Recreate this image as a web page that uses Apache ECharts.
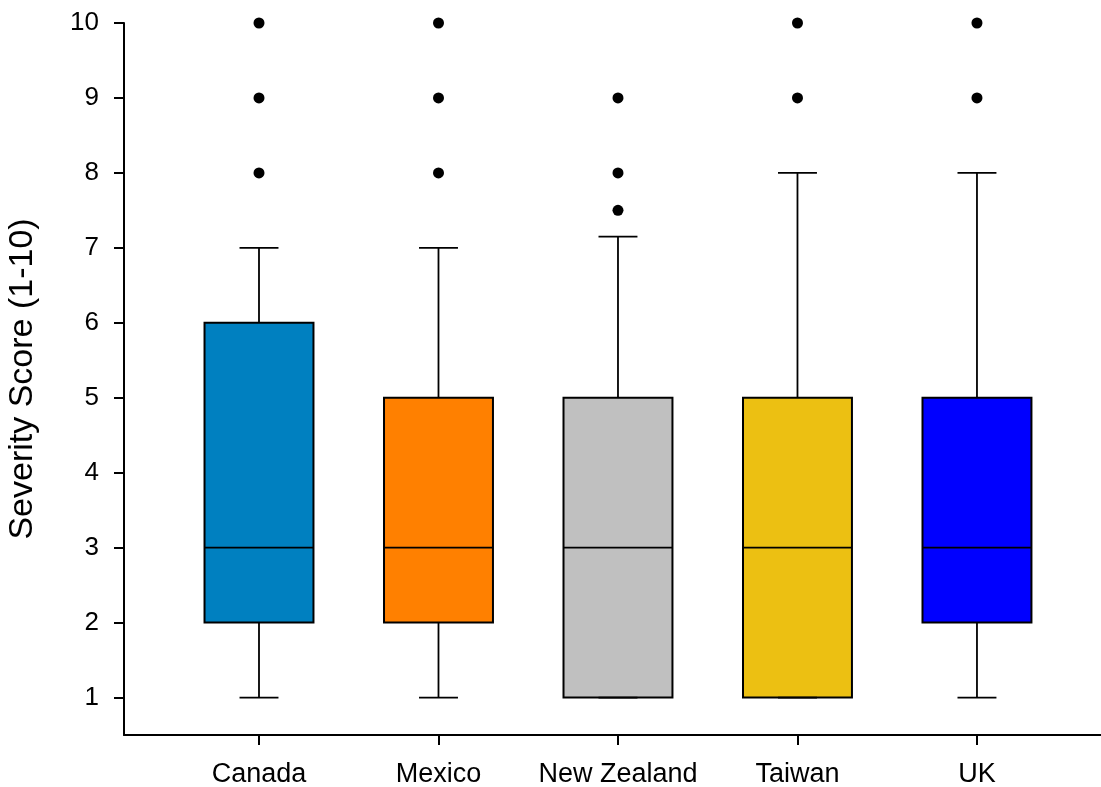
<!DOCTYPE html>
<html>
<head>
<meta charset="utf-8">
<script src="https://cdn.jsdelivr.net/npm/echarts@6/dist/echarts.min.js"></script>
<style>
  html, body { margin: 0; padding: 0; background: #fff; }
  #chart { width: 1101px; height: 787px; }
</style>
</head>
<body>
<div id="chart"></div>
<script>
// Countries along the x axis
const categories = ['Canada', 'Mexico', 'New Zealand', 'Taiwan', 'UK'];
// Box statistics per country: [lower whisker, Q1, median, Q3, upper whisker]
const boxStats = [
  [1, 2, 3, 6, 7],
  [1, 2, 3, 5, 7],
  [1, 1, 3, 5, 7.15],
  [1, 1, 3, 5, 8],
  [1, 2, 3, 5, 8]
];
// Outlying scores per country
const outliers = [
  [8, 9, 10],
  [8, 9, 10],
  [7.5, 8, 9],
  [9, 10],
  [9, 10]
];
const boxColors = ['#0080C0', '#FF8000', '#C0C0C0', '#ECC012', '#0000FF'];
const yTicks = [1, 2, 3, 4, 5, 6, 7, 8, 9, 10];
const xTicks = [1, 2, 3, 4, 5];

const FONT = '"Liberation Sans", Arial, sans-serif';
const BOX_W = 0.607;   // box width in category units
const CAP_W = 0.217;   // whisker cap width in category units

const boxData = boxStats.map((s, i) => [i + 1].concat(s));
const outlierData = [];
outliers.forEach((list, i) => list.forEach(v => outlierData.push([i + 1, v])));

function renderBox(params, api) {
  const x = api.value(0);
  const lo = api.coord([x, api.value(1)]);
  const q1 = api.coord([x, api.value(2)]);
  const med = api.coord([x, api.value(3)]);
  const q3 = api.coord([x, api.value(4)]);
  const hi = api.coord([x, api.value(5)]);
  const bw = api.size([BOX_W, 0])[0];
  const cw = api.size([CAP_W, 0])[0];
  const cx = lo[0];
  const ls = { stroke: '#000', lineWidth: 1.8 };
  return {
    type: 'group',
    children: [
      { type: 'line', shape: { x1: cx, y1: q3[1], x2: cx, y2: hi[1] }, style: ls },
      { type: 'line', shape: { x1: cx - cw / 2, y1: hi[1], x2: cx + cw / 2, y2: hi[1] }, style: ls },
      { type: 'line', shape: { x1: cx, y1: q1[1], x2: cx, y2: lo[1] }, style: ls },
      { type: 'rect', shape: { x: cx - bw / 2, y: q3[1], width: bw, height: q1[1] - q3[1] },
        style: { fill: boxColors[params.dataIndex], stroke: '#000', lineWidth: 2 } },
      { type: 'line', shape: { x1: cx - bw / 2, y1: med[1], x2: cx + bw / 2, y2: med[1] }, style: ls },
      { type: 'line', shape: { x1: cx - cw / 2, y1: lo[1], x2: cx + cw / 2, y2: lo[1] }, style: ls }
    ]
  };
}

const chart = echarts.init(document.getElementById('chart'), null, { renderer: 'canvas' });
chart.setOption({
  animation: false,
  backgroundColor: '#fff',
  grid: { left: 124, right: 0, top: 23, bottom: 52, containLabel: false, outerBoundsMode: 'none' },
  xAxis: {
    type: 'value',
    min: 0.2479,
    max: 5.691,
    splitLine: { show: false },
    axisLine: { show: true, onZero: false, lineStyle: { color: '#000', width: 2 } },
    axisTick: { show: true, customValues: xTicks, length: 10, lineStyle: { color: '#000', width: 2 } },
    axisLabel: {
      customValues: xTicks,
      formatter: v => categories[Math.round(v) - 1],
      color: '#000', fontFamily: FONT, fontSize: 27, margin: 26
    }
  },
  yAxis: {
    type: 'value',
    min: 0.5,
    max: 10,
    name: 'Severity Score (1-10)',
    nameLocation: 'middle',
    nameGap: 84,
    nameTextStyle: { color: '#000', fontFamily: FONT, fontSize: 34 },
    splitLine: { show: false },
    axisLine: { show: true, onZero: false, lineStyle: { color: '#000', width: 2 } },
    axisTick: { show: true, customValues: yTicks, length: 10, lineStyle: { color: '#000', width: 2 } },
    axisLabel: {
      customValues: yTicks,
      color: '#000', fontFamily: FONT, fontSize: 26, margin: 25
    }
  },
  series: [
    {
      type: 'custom',
      renderItem: renderBox,
      data: boxData,
      clip: false,
      z: 2
    },
    {
      type: 'scatter',
      data: outlierData,
      symbol: 'circle',
      symbolSize: 11,
      itemStyle: { color: '#000', opacity: 1 },
      clip: false,
      z: 3
    }
  ]
});
</script>
</body>
</html>
